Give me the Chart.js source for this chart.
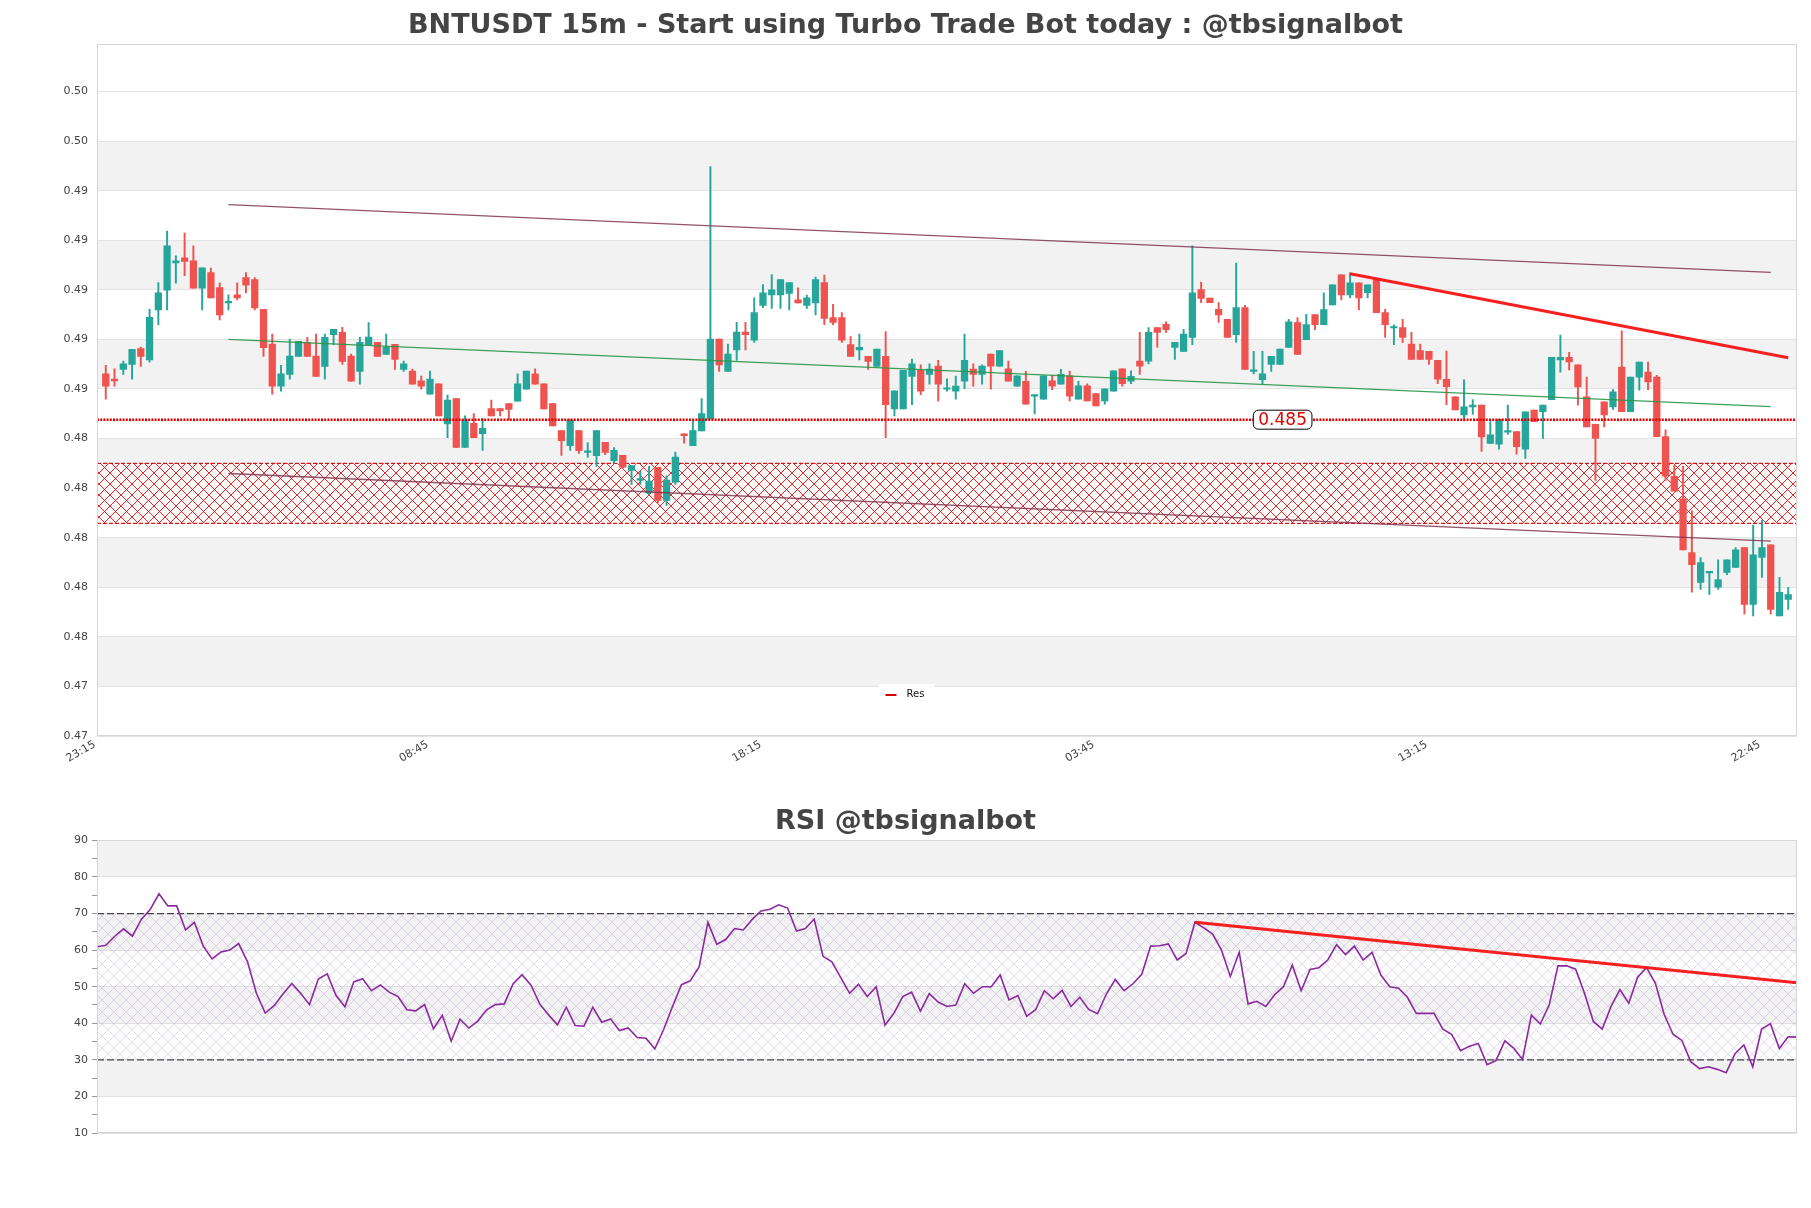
<!DOCTYPE html>
<html><head><meta charset="utf-8">
<script src="https://cdn.jsdelivr.net/npm/chart.js@4.4.0/dist/chart.umd.min.js"></script>
<style>
html,body{margin:0;padding:0;background:#fff;width:1811px;height:1208px;overflow:hidden}
#w1{position:absolute;left:0;top:0;width:1811px;height:790px}
#w2{position:absolute;left:0;top:790px;width:1811px;height:418px}
</style></head><body>
<div id="w1"><canvas id="c1"></canvas></div>
<div id="w2"><canvas id="c2"></canvas></div>
<script>
// ---------- DATA ----------
const opens = [
0.48661,0.48640,0.48679,0.48699,0.48763,0.48717,0.48919,0.48999,0.49108,0.49129,
0.49117,0.49007,0.49069,0.49009,0.48947,0.48980,0.49049,0.49041,0.48921,0.48781,
0.48611,0.48659,0.48731,0.48788,0.48733,0.48691,0.48819,0.48828,0.48733,0.48671,
0.48779,0.48788,0.48739,0.48780,0.48679,0.48672,0.48633,0.48579,0.48621,0.48459,
0.48561,0.48364,0.48461,0.48420,0.48521,0.48521,0.48541,0.48551,0.48599,0.48661,
0.48621,0.48541,0.48432,0.48371,0.48432,0.48344,0.48331,0.48385,0.48311,0.48332,
0.48271,0.48232,0.48181,0.48284,0.48150,0.48224,0.48419,0.48371,0.48431,0.48479,
0.48801,0.48671,0.48757,0.48829,0.48797,0.48937,0.48979,0.48979,0.48985,0.48960,
0.48937,0.48947,0.49029,0.48888,0.48888,0.48779,0.48757,0.48732,0.48691,0.48732,
0.48519,0.48519,0.48651,0.48675,0.48659,0.48692,0.48599,0.48591,0.48631,0.48680,
0.48659,0.48741,0.48692,0.48681,0.48611,0.48631,0.48571,0.48559,0.48633,0.48619,
0.48653,0.48559,0.48613,0.48581,0.48552,0.48591,0.48681,0.48631,0.48712,0.48712,
0.48848,0.48861,0.48768,0.48751,0.48808,0.49001,0.48967,0.48921,0.48881,0.48819,
0.48928,0.48671,0.48637,0.48699,0.48699,0.48768,0.48868,0.48799,0.48900,0.48859,
0.48939,0.49060,0.48979,0.49028,0.48988,0.49041,0.48908,0.48846,0.48848,0.48781,
0.48755,0.48752,0.48715,0.48639,0.48568,0.48495,0.48528,0.48535,0.48380,0.48377,
0.48426,0.48428,0.48357,0.48515,0.48508,0.48557,0.48717,0.48728,0.48697,0.48568,
0.48457,0.48548,0.48528,0.48688,0.48508,0.48648,0.48668,0.48648,0.48408,0.48248,
0.48157,0.47940,0.47820,0.47858,0.47800,0.47860,0.47880,0.47960,0.47731,0.47920,
0.47971,0.47684,0.47751];
const highs = [
0.48695,0.48681,0.48712,0.48760,0.48769,0.48921,0.49029,0.49237,0.49137,0.49229,
0.49177,0.49089,0.49088,0.49028,0.48980,0.49028,0.49069,0.49049,0.48921,0.48821,
0.48695,0.48801,0.48792,0.48808,0.48821,0.48821,0.48841,0.48849,0.48741,0.48808,
0.48868,0.48788,0.48821,0.48780,0.48712,0.48680,0.48652,0.48672,0.48621,0.48575,
0.48561,0.48492,0.48501,0.48481,0.48555,0.48521,0.48541,0.48661,0.48672,0.48681,
0.48621,0.48541,0.48432,0.48475,0.48432,0.48384,0.48432,0.48385,0.48364,0.48332,
0.48291,0.48268,0.48288,0.48284,0.48250,0.48345,0.48419,0.48475,0.48561,0.49497,
0.48801,0.48781,0.48869,0.48869,0.48968,0.49021,0.49061,0.49041,0.49029,0.49008,
0.48979,0.49051,0.49059,0.48941,0.48908,0.48811,0.48821,0.48732,0.48761,0.48831,
0.48592,0.48675,0.48721,0.48697,0.48701,0.48715,0.48641,0.48652,0.48821,0.48701,
0.48697,0.48741,0.48755,0.48712,0.48653,0.48671,0.48575,0.48653,0.48653,0.48679,
0.48672,0.48631,0.48621,0.48581,0.48601,0.48673,0.48681,0.48673,0.48828,0.48848,
0.48848,0.48871,0.48788,0.48841,0.49177,0.49031,0.48967,0.48948,0.48881,0.49108,
0.48937,0.48752,0.48752,0.48732,0.48761,0.48881,0.48888,0.48901,0.48900,0.48988,
0.49020,0.49060,0.49068,0.49028,0.49020,0.49041,0.48921,0.48859,0.48881,0.48828,
0.48781,0.48752,0.48715,0.48753,0.48568,0.48637,0.48557,0.48535,0.48468,0.48477,
0.48535,0.48428,0.48508,0.48515,0.48535,0.48728,0.48817,0.48748,0.48697,0.48648,
0.48457,0.48548,0.48597,0.48835,0.48648,0.48708,0.48708,0.48655,0.48435,0.48291,
0.48288,0.48108,0.47920,0.47862,0.47911,0.47911,0.47960,0.47960,0.48051,0.48071,
0.47971,0.47840,0.47800];
const lows = [
0.48559,0.48611,0.48659,0.48639,0.48691,0.48708,0.48859,0.48919,0.49027,0.49057,
0.49007,0.48919,0.48967,0.48879,0.48919,0.48959,0.48987,0.48919,0.48731,0.48579,
0.48591,0.48639,0.48731,0.48731,0.48651,0.48639,0.48779,0.48699,0.48631,0.48619,
0.48779,0.48731,0.48739,0.48679,0.48671,0.48619,0.48599,0.48579,0.48491,0.48404,
0.48364,0.48364,0.48404,0.48352,0.48491,0.48491,0.48475,0.48551,0.48599,0.48619,
0.48519,0.48451,0.48332,0.48352,0.48340,0.48324,0.48288,0.48335,0.48301,0.48281,
0.48215,0.48215,0.48175,0.48140,0.48130,0.48215,0.48381,0.48371,0.48431,0.48479,
0.48671,0.48671,0.48715,0.48757,0.48788,0.48928,0.48925,0.48925,0.48919,0.48947,
0.48925,0.48899,0.48859,0.48859,0.48788,0.48731,0.48717,0.48679,0.48691,0.48404,
0.48491,0.48519,0.48537,0.48577,0.48619,0.48551,0.48591,0.48559,0.48601,0.48611,
0.48619,0.48599,0.48692,0.48631,0.48611,0.48539,0.48499,0.48559,0.48597,0.48619,
0.48552,0.48559,0.48552,0.48532,0.48539,0.48591,0.48611,0.48621,0.48659,0.48701,
0.48768,0.48828,0.48719,0.48751,0.48779,0.48948,0.48948,0.48868,0.48808,0.48788,
0.48679,0.48661,0.48621,0.48671,0.48699,0.48768,0.48739,0.48799,0.48839,0.48859,
0.48939,0.48959,0.48968,0.48919,0.48967,0.48908,0.48808,0.48779,0.48788,0.48719,
0.48719,0.48699,0.48621,0.48537,0.48515,0.48471,0.48497,0.48348,0.48380,0.48357,
0.48417,0.48337,0.48320,0.48468,0.48400,0.48557,0.48668,0.48677,0.48535,0.48447,
0.48231,0.48447,0.48517,0.48508,0.48508,0.48595,0.48597,0.48408,0.48231,0.48188,
0.47951,0.47780,0.47791,0.47771,0.47791,0.47851,0.47880,0.47691,0.47684,0.47840,
0.47691,0.47684,0.47711];
const closes = [
0.48611,0.48632,0.48701,0.48760,0.48731,0.48889,0.48988,0.49177,0.49117,0.49115,
0.49007,0.49089,0.48967,0.48899,0.48949,0.48967,0.49019,0.48927,0.48767,0.48611,
0.48661,0.48733,0.48792,0.48731,0.48651,0.48808,0.48841,0.48711,0.48631,0.48788,
0.48809,0.48731,0.48768,0.48719,0.48701,0.48619,0.48611,0.48640,0.48491,0.48555,
0.48364,0.48475,0.48404,0.48441,0.48491,0.48511,0.48517,0.48621,0.48672,0.48619,
0.48519,0.48451,0.48391,0.48475,0.48351,0.48347,0.48432,0.48344,0.48352,0.48284,
0.48291,0.48235,0.48228,0.48150,0.48232,0.48325,0.48412,0.48432,0.48501,0.48801,
0.48697,0.48741,0.48829,0.48819,0.48908,0.48988,0.49000,0.49041,0.49029,0.48947,
0.48968,0.49041,0.48885,0.48868,0.48797,0.48731,0.48768,0.48711,0.48761,0.48537,
0.48592,0.48675,0.48701,0.48591,0.48680,0.48619,0.48603,0.48612,0.48715,0.48659,
0.48692,0.48692,0.48755,0.48631,0.48653,0.48539,0.48572,0.48653,0.48611,0.48659,
0.48571,0.48613,0.48552,0.48532,0.48601,0.48673,0.48621,0.48651,0.48692,0.48828,
0.48828,0.48839,0.48788,0.48821,0.48988,0.48965,0.48948,0.48899,0.48808,0.48928,
0.48679,0.48675,0.48661,0.48732,0.48761,0.48871,0.48739,0.48860,0.48859,0.48920,
0.49020,0.48979,0.49028,0.48967,0.49020,0.48908,0.48859,0.48849,0.48808,0.48719,
0.48719,0.48719,0.48639,0.48609,0.48515,0.48528,0.48535,0.48407,0.48415,0.48477,
0.48430,0.48367,0.48508,0.48468,0.48535,0.48728,0.48728,0.48709,0.48608,0.48447,
0.48400,0.48495,0.48588,0.48508,0.48648,0.48708,0.48628,0.48408,0.48248,0.48188,
0.47951,0.47891,0.47900,0.47862,0.47831,0.47911,0.47951,0.47731,0.47931,0.47960,
0.47711,0.47780,0.47771];
const rsiValues = [
60.9,61.3,63.8,65.8,63.8,68.4,71.1,75.4,72.1,72.1,
65.5,67.6,61.1,57.6,59.5,60.0,61.8,56.8,48.2,42.8,
44.8,48.0,50.9,48.2,45.1,52.1,53.5,47.6,44.5,51.3,
52.2,48.9,50.5,48.5,47.3,43.7,43.4,45.1,38.5,42.2,
35.1,41.1,38.7,40.6,43.7,45.1,45.3,50.8,53.3,50.5,
45.3,42.3,39.6,44.4,39.4,39.2,44.4,40.3,41.2,38.0,
38.7,36.1,35.9,33.0,38.3,44.6,50.5,51.6,55.4,67.6,
61.6,62.9,65.9,65.5,68.4,70.7,71.2,72.4,71.5,65.2,
65.9,68.5,58.3,56.8,52.5,48.2,50.7,47.3,50.0,39.5,
42.7,47.3,48.5,43.3,48.1,45.8,44.6,45.0,50.8,48.2,
50.0,50.0,53.2,46.4,47.6,41.9,43.7,48.9,46.7,49.0,
44.6,47.1,43.8,42.6,48.0,52.0,48.9,50.8,53.4,61.1,
61.2,61.7,57.3,59.1,67.6,66.1,64.4,60.0,52.8,59.4,
45.3,46.0,44.6,47.8,50.0,55.9,48.9,54.7,55.2,57.3,
61.5,58.8,61.1,57.3,59.4,53.2,50.0,49.6,47.1,42.7,
42.7,42.7,38.4,37.0,32.5,33.7,34.5,28.7,29.8,35.2,
33.2,30.1,42.2,39.8,44.9,55.7,55.7,54.8,48.2,40.5,
38.4,44.6,49.2,45.5,52.6,55.2,51.0,42.4,37.0,35.3,
29.5,27.6,28.1,27.4,26.5,31.7,34.1,28.1,38.4,39.9,
33.1,36.3,36.2];

const xTickIndex  = [0, 38, 76, 114, 152, 190];
const xTickLabels = ['23:15', '08:45', '18:15', '03:45', '13:15', '22:45'];
const yTickValues = [0.472,0.474,0.476,0.478,0.480,0.482,0.484,0.486,0.488,0.490,0.492,0.494,0.496,0.498];
const yTickLabels = ['0.47','0.47','0.48','0.48','0.48','0.48','0.48','0.49','0.49','0.49','0.49','0.49','0.50','0.50'];
const rsiTickValues = [10,20,30,40,50,60,70,80,90];

const resLevel = 0.48476;
const zoneTop = 0.48300;
const zoneBottom = 0.48058;
const upperChannel = [{x:14, y:0.49344}, {x:190, y:0.49070}];
const midChannel   = [{x:14, y:0.48800}, {x:190, y:0.48529}];
const lowerChannel = [{x:14, y:0.48259}, {x:190, y:0.47986}];
const priceTrend   = [{x:142, y:0.49065}, {x:192, y:0.48726}];
const rsiTrend     = [{x:124, y:67.6}, {x:192, y:51.1}];
const rsiUpper = 70, rsiLower = 30;

// ---------- SETUP ----------
Chart.defaults.font.family = "'DejaVu Sans', sans-serif";
Chart.defaults.color = '#444';
const N = opens.length;
const GREEN = '#26a69a', RED = '#ef5350';
const candleColors = opens.map((o, i) => closes[i] >= o ? GREEN : RED);
const idx = opens.map((_, i) => i);

function hatch(size, color, lw, bg) {
  const c = document.createElement('canvas');
  c.width = size; c.height = size;
  const g = c.getContext('2d');
  if (bg) { g.fillStyle = bg; g.fillRect(0, 0, size, size); }
  g.strokeStyle = color; g.lineWidth = lw;
  g.beginPath();
  g.moveTo(-1, -1); g.lineTo(size + 1, size + 1);
  g.moveTo(size + 1, -1); g.lineTo(-1, size + 1);
  g.stroke();
  return g.createPattern(c, 'repeat');
}

const bandsPlugin = {
  id: 'bands',
  beforeDraw(chart, args, opts) {
    const {ctx, chartArea: a} = chart;
    const ys = chart.scales.y;
    ctx.save();
    ctx.fillStyle = '#fff';
    ctx.fillRect(0, 0, chart.width, chart.height);
    ctx.fillStyle = opts.color;
    const t = opts.ticks;
    for (let k = 1; k < t.length - 1; k += 2) {
      const y1 = ys.getPixelForValue(t[k]), y2 = ys.getPixelForValue(t[k + 1]);
      ctx.fillRect(a.left, y2, a.right - a.left, y1 - y2);
    }
    ctx.restore();
  },
  afterDatasetsDraw(chart) {
    const {ctx, chartArea: a} = chart;
    ctx.save();
    ctx.strokeStyle = '#d6d6d6'; ctx.lineWidth = 1;
    ctx.strokeRect(Math.round(a.left) + 0.5, Math.round(a.top) + 0.5, Math.round(a.right - a.left) - 1, Math.round(a.bottom - a.top) - 1);
    ctx.restore();
  }
};

const annotPlugin = {
  id: 'annot',
  afterDatasetsDraw(chart) {
    const {ctx, chartArea: a} = chart;
    const x = chart.scales.x.getPixelForValue(134.3);
    const y = chart.scales.y.getPixelForValue(resLevel);
    const txt = resLevel.toFixed(3);
    ctx.save();
    ctx.font = "17px 'DejaVu Sans'";
    const w = ctx.measureText(txt).width + 10, h = 19;
    const x0 = x - w / 2, y0 = y - h / 2, r = 5;
    ctx.beginPath();
    ctx.moveTo(x0 + r, y0); ctx.lineTo(x0 + w - r, y0); ctx.arcTo(x0 + w, y0, x0 + w, y0 + r, r);
    ctx.lineTo(x0 + w, y0 + h - r); ctx.arcTo(x0 + w, y0 + h, x0 + w - r, y0 + h, r);
    ctx.lineTo(x0 + r, y0 + h); ctx.arcTo(x0, y0 + h, x0, y0 + h - r, r);
    ctx.lineTo(x0, y0 + r); ctx.arcTo(x0, y0, x0 + r, y0, r);
    ctx.closePath();
    ctx.fillStyle = '#fff'; ctx.fill();
    ctx.strokeStyle = '#000'; ctx.lineWidth = 1; ctx.stroke();
    ctx.fillStyle = '#e00000'; ctx.textAlign = 'center'; ctx.textBaseline = 'middle';
    ctx.fillText(txt, x, y + 1);
    // legend
    const lx = chart.width / 2, ly = a.bottom - 42;
    ctx.fillStyle = 'rgba(255,255,255,0.85)';
    ctx.fillRect(lx - 27, ly - 10, 56, 20);
    ctx.strokeStyle = '#d00000'; ctx.lineWidth = 2; ctx.setLineDash([]);
    ctx.beginPath(); ctx.moveTo(lx - 20, ly + 1); ctx.lineTo(lx - 9, ly + 1); ctx.stroke();
    ctx.fillStyle = '#111'; ctx.font = "10px 'DejaVu Sans'"; ctx.textAlign = 'left';
    ctx.fillText('Res', lx + 1, ly);
    ctx.restore();
  }
};

// ---------- MAIN CHART ----------
const zonePattern = hatch(11, 'rgba(225,20,20,0.9)', 1, 'rgba(255,250,250,0.75)');
new Chart(document.getElementById('c1'), {
  type: 'bar',
  data: {
    datasets: [
      {type: 'line', data: [{x:-1, y:zoneTop}, {x:N, y:zoneTop}], borderColor: 'rgba(220,0,0,0.9)', borderWidth: 1.2, borderDash: [4,2],
       pointRadius: 0, fill: '+1', backgroundColor: zonePattern, order: 20},
      {type: 'line', data: [{x:-1, y:zoneBottom}, {x:N, y:zoneBottom}], borderColor: 'rgba(220,0,0,0.9)', borderWidth: 1.2, borderDash: [4,2],
       pointRadius: 0, fill: false, order: 19},
      {type: 'bar', data: idx.map(i => ({x: i, y: [lows[i], highs[i]]})), backgroundColor: candleColors, barThickness: 1.3, grouped: false, order: 10},
      {type: 'bar', data: idx.map(i => ({x: i, y: [opens[i], closes[i]]})), backgroundColor: candleColors, barThickness: 6.6, minBarLength: 1.5, grouped: false, order: 9},
      {type: 'line', data: [{x:-1, y:resLevel}, {x:N, y:resLevel}], borderColor: '#e00000', borderWidth: 2.5, borderDash: [2,1.2], pointRadius: 0, fill: false, order: 5},
      {type: 'line', data: upperChannel, borderColor: 'rgba(128,50,80,0.85)', borderWidth: 1.3, pointRadius: 0, fill: false, order: 4},
      {type: 'line', data: midChannel, borderColor: 'rgba(40,150,70,0.9)', borderWidth: 1.3, pointRadius: 0, fill: false, order: 4},
      {type: 'line', data: lowerChannel, borderColor: 'rgba(128,50,80,0.85)', borderWidth: 1.3, pointRadius: 0, fill: false, order: 4},
      {type: 'line', data: priceTrend, borderColor: 'rgba(245,20,20,0.95)', borderWidth: 3, pointRadius: 0, fill: false, order: 1}
    ]
  },
  options: {
    responsive: true, maintainAspectRatio: false, animation: false, devicePixelRatio: 1,
    layout: {padding: {left: 0, right: 0, top: 0, bottom: 0}},
    plugins: {
      legend: {display: false}, tooltip: {enabled: false},
      title: {display: true, text: 'BNTUSDT 15m - Start using Turbo Trade Bot today : @tbsignalbot',
              font: {size: 27, weight: 'bold'}, color: '#444', padding: {top: 10, bottom: 2}},
      bands: {color: '#f2f2f2', ticks: yTickValues}
    },
    scales: {
      x: {type: 'linear', min: -1, max: N, offset: false,
          grid: {display: false, drawTicks: false}, border: {display: false},
          afterBuildTicks: s => { s.ticks = xTickIndex.map(v => ({value: v})); },
          afterFit: s => { s.height = 54; },
          ticks: {autoSkip: false, minRotation: 30, maxRotation: 30, padding: 2, labelOffset: -11,
                  font: {size: 11}, color: '#444',
                  callback: v => xTickLabels[xTickIndex.indexOf(v)]}},
      y: {type: 'linear', position: 'left', min: 0.472, max: 0.4999, beginAtZero: false,
          grid: {color: '#e3e3e3', drawTicks: false}, border: {display: false},
          afterBuildTicks: s => { s.ticks = yTickValues.map(v => ({value: v})); },
          afterFit: s => { s.width = 97; },
          ticks: {autoSkip: false, padding: 9, font: {size: 11}, color: '#444',
                  callback: (v, i) => yTickLabels[yTickValues.indexOf(v)]}},
      yr: {type: 'linear', position: 'right', display: true, grid: {display: false, drawTicks: false},
           border: {display: false}, ticks: {display: false}, afterFit: s => { s.width = 14; }}
    }
  },
  plugins: [bandsPlugin, annotPlugin]
});

// ---------- RSI CHART ----------
const rsiPattern = hatch(12, 'rgba(170,140,200,0.32)', 1, null);
new Chart(document.getElementById('c2'), {
  type: 'line',
  data: {
    datasets: [
      {data: [{x:0, y:rsiUpper}, {x:N - 1, y:rsiUpper}], borderColor: '#444', borderWidth: 1.3, borderDash: [7,3],
       pointRadius: 0, fill: '+1', backgroundColor: rsiPattern, order: 10},
      {data: [{x:0, y:rsiLower}, {x:N - 1, y:rsiLower}], borderColor: '#444', borderWidth: 1.3, borderDash: [7,3],
       pointRadius: 0, fill: false, order: 9},
      {data: idx.map(i => ({x: i, y: rsiValues[i]})), borderColor: '#8b2a9e', borderWidth: 1.6, pointRadius: 0, fill: false, tension: 0, order: 5},
      {data: rsiTrend, borderColor: 'rgba(245,20,20,0.95)', borderWidth: 3, pointRadius: 0, fill: false, order: 1}
    ]
  },
  options: {
    responsive: true, maintainAspectRatio: false, animation: false, devicePixelRatio: 1,
    layout: {padding: {left: 0, right: 0, top: 0, bottom: 75}},
    plugins: {
      legend: {display: false}, tooltip: {enabled: false},
      title: {display: true, text: 'RSI @tbsignalbot', font: {size: 27, weight: 'bold'}, color: '#444', padding: {top: 16, bottom: 2}},
      bands: {color: '#f2f2f2', ticks: rsiTickValues}
    },
    scales: {
      x: {type: 'linear', min: 0, max: N - 1, display: false},
      y: {type: 'linear', min: 10, max: 90,
          grid: {color: c => (c.tick && c.tick.value % 10 === 0) ? '#e0e0e0' : 'rgba(0,0,0,0)', tickColor: '#999', tickLength: 5, drawTicks: true},
          border: {display: false},
          afterFit: s => { s.width = 97; },
          ticks: {stepSize: 5, autoSkip: false, padding: 4, font: {size: 11}, color: '#444',
                  callback: v => rsiTickValues.includes(v) ? String(v) : ''}},
      yr: {type: 'linear', position: 'right', display: true, grid: {display: false, drawTicks: false},
           border: {display: false}, ticks: {display: false}, afterFit: s => { s.width = 14; }}
    }
  },
  plugins: [bandsPlugin]
});
</script>
</body></html>
